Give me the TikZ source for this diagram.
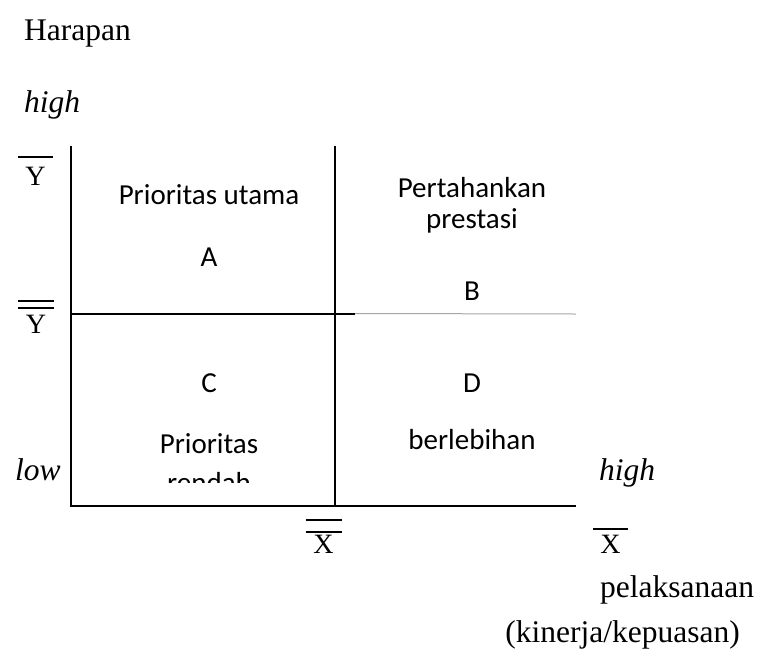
\documentclass[tikz,border=0pt]{standalone}
\usepackage{fontspec}
\setmainfont{Liberation Serif}
\newfontfamily\quadfont{Carlito}
\definecolor{thinline}{HTML}{A6A6A6}
% letters with one or two bars over them
\newcommand\barone[2]{\vbox{\hrule width 35pt height 1.5pt\kern#2\hbox to 35pt{\hfil#1\hfil}}}
\newcommand\bartwo[3]{\vbox{\hrule width 36pt height 1.5pt\kern#2\hrule width 36pt height 1.5pt\kern#3\hbox to 36pt{\hfil#1\hfil}}}
\tikzset{
  axisline/.style={line width=2pt, black},
  axistext/.style={font=\fontsize{31.5}{36}\selectfont, inner sep=0pt},
  endtext/.style={axistext, font=\fontsize{31.5}{36}\selectfont\itshape},
  bartext/.style={inner sep=0pt, font=\fontsize{28}{32}\selectfont},
  quadtext/.style={font=\quadfont\fontsize{29}{35}\selectfont, inner sep=0pt},
}
\begin{document}
\begin{tikzpicture}[x=1pt, y=-1pt]
    \useasboundingbox (0,0) rectangle (761,657);
    % frame of the matrix
    \coordinate (ytop) at (71,146);
    \coordinate (orig) at (71,506);
    \coordinate (xend) at (576,506);
    \coordinate (midtop) at (335,146);
    \coordinate (midbot) at (335,506);
    \coordinate (midleft) at (71,313.5);
    \coordinate (midjoin) at (355,313.5);
    \coordinate (midright) at (576,314);
    \draw[axisline] (ytop) -- (orig) -- (xend);
    \draw[axisline] (midtop) -- (midbot);
    \draw[axisline] (midleft) -- (midjoin);
    \draw[thinline, line width=1pt] (midjoin) -- (midright);
    % axis labels
    \node[axistext, anchor=base west] (harapan) at (24,40) {Harapan};
    \node[endtext, anchor=base west] (yhigh) at (24,112) {high};
    \node[bartext, anchor=base] (ymean) at (35.5,185) {\barone{Y}{9pt}};
    \node[bartext, anchor=base] (ygrand) at (36,333) {\bartwo{Y}{5.5pt}{6pt}};
    \node[endtext, anchor=base west] (ylow) at (15,480) {low};
    \node[endtext, anchor=base west] (xhigh) at (599,480) {high};
    \node[bartext, anchor=base] (xgrand) at (323.5,553) {\bartwo{X}{10.5pt}{2pt}};
    \node[bartext, anchor=base] (xmean) at (610.5,553) {\barone{X}{5pt}};
    \node[axistext, anchor=base west] (pelaks) at (600,597) {pelaksanaan};
    \node[axistext, anchor=base east] (kinerja) at (740,642) {(kinerja/kepuasan)};
    % quadrant texts
    \node[quadtext, anchor=base] (qa) at (209,204) {Prioritas utama};
    \node[quadtext, anchor=base] (qaletter) at (209,266) {A};
    \node[quadtext, anchor=base] (qb) at (472,197) {Pertahankan};
    \node[quadtext, anchor=base] (qbb) at (472,228) {prestasi};
    \node[quadtext, anchor=base] (qbletter) at (472,300) {B};
    \node[quadtext, anchor=base] (qcletter) at (209,392) {C};
    \node[quadtext, anchor=base] (qdletter) at (472,392) {D};
    \node[quadtext, anchor=base] (qc) at (209,453) {Prioritas};
    \begin{scope}
      \clip (100,460) rectangle (330,482);
      \node[quadtext, anchor=base] (qcc) at (209,492) {rendah};
    \end{scope}
    \node[quadtext, anchor=base] (qd) at (472,449) {berlebihan};
  \end{tikzpicture}
\end{document}
